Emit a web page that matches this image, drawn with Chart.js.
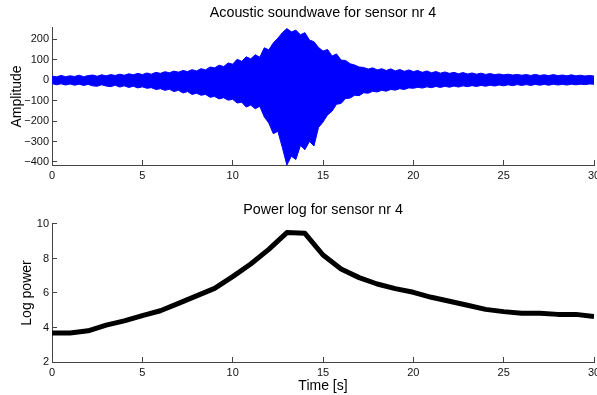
<!DOCTYPE html>
<html>
<head>
<meta charset="utf-8">
<script src="https://cdn.jsdelivr.net/npm/chart.js@4"></script>
<style>
  body { margin: 0; background: #fff; }
  canvas { position: absolute; left: 0; }
  #waveChart { top: 0; }
  #powerChart { top: 190px; }
</style>
</head>
<body>
<canvas id="waveChart" width="597" height="190"></canvas>
<canvas id="powerChart" width="597" height="205"></canvas>
<script>
const ampTime = [
  0, 0.25, 0.5, 0.75, 1, 1.25, 1.5, 1.75, 2, 2.25, 2.5, 2.75, 3, 3.25, 3.5, 3.75, 4, 4.25, 4.5, 4.75,
  5, 5.25, 5.5, 5.75, 6, 6.25, 6.5, 6.75, 7, 7.25, 7.5, 7.75, 8, 8.25, 8.5, 8.75, 9, 9.25, 9.5, 9.75,
  10, 10.25, 10.5, 10.75, 11, 11.25, 11.5, 11.75, 12, 12.25, 12.5, 12.75, 13, 13.25, 13.5, 13.75, 14, 14.25, 14.5, 14.75,
  15, 15.25, 15.5, 15.75, 16, 16.25, 16.5, 16.75, 17, 17.25, 17.5, 17.75, 18, 18.25, 18.5, 18.75, 19, 19.25, 19.5, 19.75,
  20, 20.25, 20.5, 20.75, 21, 21.25, 21.5, 21.75, 22, 22.25, 22.5, 22.75, 23, 23.25, 23.5, 23.75, 24, 24.25, 24.5, 24.75,
  25, 25.25, 25.5, 25.75, 26, 26.25, 26.5, 26.75, 27, 27.25, 27.5, 27.75, 28, 28.25, 28.5, 28.75, 29, 29.25, 29.5, 29.75,
  30
];
const ampMax = [
  20, 16, 23, 17, 21, 18, 24, 17, 22, 25, 19, 26, 21, 27, 23, 29, 24, 31, 26, 33,
  27, 35, 29, 38, 33, 41, 36, 44, 39, 47, 42, 51, 45, 56, 50, 64, 60, 73, 66, 84,
  78, 102, 92, 114, 104, 124, 112, 158, 148, 182, 205, 232, 252, 236, 244, 222, 232, 196, 188, 160,
  142, 150, 118, 128, 98, 96, 80, 74, 64, 62, 54, 60, 50, 56, 47, 55, 45, 52, 43, 50,
  42, 47, 38, 45, 36, 42, 34, 40, 33, 38, 31, 37, 30, 35, 29, 34, 28, 32, 27, 30,
  26, 29, 25, 28, 24, 27, 23, 28, 23, 26, 22, 27, 22, 25, 21, 26, 21, 24, 20, 23,
  20
];
const ampMin = [
  -17, -23, -18, -24, -19, -25, -20, -26, -21, -28, -30, -23, -29, -32, -25, -34, -28, -36, -30, -38,
  -33, -40, -37, -46, -42, -50, -45, -56, -50, -63, -56, -70, -64, -74, -70, -84, -80, -92, -86, -98,
  -94, -112, -108, -132, -122, -140, -128, -180, -210, -262, -250, -330, -415, -372, -388, -320, -340, -300, -322, -232,
  -205, -170, -152, -118, -114, -90, -88, -74, -76, -62, -64, -55, -58, -50, -54, -46, -49, -42, -46, -38,
  -40, -35, -39, -33, -37, -31, -36, -30, -35, -29, -34, -28, -32, -27, -31, -26, -30, -25, -29, -24,
  -28, -23, -27, -22, -26, -22, -26, -21, -25, -21, -25, -20, -24, -21, -24, -20, -23, -20, -22, -19,
  -20
];

// log power, one value per second
const powerTime = [0, 1, 2, 3, 4, 5, 6, 7, 8, 9, 10, 11, 12, 13, 14, 15, 16, 17, 18, 19, 20, 21, 22, 23, 24, 25, 26, 27, 28, 29, 30];
const logPower = [3.68, 3.68, 3.81, 4.14, 4.38, 4.69, 4.97, 5.40, 5.83, 6.27, 6.95, 7.68, 8.53, 9.50, 9.46, 8.20,
  7.39, 6.89, 6.52, 6.25, 6.04, 5.75, 5.52, 5.29, 5.05, 4.92, 4.82, 4.82, 4.76, 4.76, 4.63];

const FONT = "'Liberation Sans', Arial, Helvetica, sans-serif";
const AXIS_COLOR = '#444';

function pts(xs, ys) {
  return xs.map((x, i) => ({ x: x, y: ys[i] }));
}

// minus sign like matlab
function tickText(v) {
  return String(v).replace('-', '\u2212');
}

// matlab-like axis: ticks inside, no grid
function axisX(height, withTitle) {
  return {
    type: 'linear', min: 0, max: 30,
    ticks: { stepSize: 5, includeBounds: false, padding: 9, color: '#111', maxRotation: 0,
      font: { family: FONT, size: 11 }, callback: tickText },
    grid: { drawOnChartArea: false, tickLength: -5, color: AXIS_COLOR },
    border: { color: AXIS_COLOR, width: 1 },
    title: withTitle ? { display: true, text: 'Time [s]', color: '#000',
      font: { family: FONT, size: 14 }, padding: { top: -3, bottom: 0 } } : { display: false },
    afterFit: s => { s.height = height; s.paddingLeft = 0; s.paddingRight = 0; }
  };
}

function axisY(min, max, step, label, labelPad) {
  return {
    min: min, max: max,
    ticks: { stepSize: step, includeBounds: false, padding: 8, color: '#111',
      font: { family: FONT, size: 11 }, callback: tickText },
    grid: { drawOnChartArea: false, tickLength: -5, color: AXIS_COLOR },
    border: { color: AXIS_COLOR, width: 1 },
    title: { display: true, text: label, color: '#000', font: { family: FONT, size: 14 },
      padding: { top: labelPad, bottom: 0 } },
    afterFit: s => { s.width = 52; s.paddingTop = 0; s.paddingBottom = 0; }
  };
}

function titleOpts(text, top, bottom) {
  return { display: true, text: text, color: '#000', fullSize: false,
    font: { family: FONT, size: 14.3, weight: 'normal' }, padding: { top: top, bottom: bottom } };
}

new Chart(document.getElementById('waveChart'), {
  type: 'line',
  data: {
    datasets: [
      { data: pts(ampTime, ampMax), borderColor: '#0000ff', backgroundColor: '#0000ff',
        borderWidth: 1, pointRadius: 0, fill: '+1', tension: 0 },
      { data: pts(ampTime, ampMin), borderColor: '#0000ff', backgroundColor: '#0000ff',
        borderWidth: 1, pointRadius: 0, fill: false, tension: 0 }
    ]
  },
  options: {
    responsive: false, animation: false,
    layout: { padding: { left: 0, right: 3, top: 0, bottom: 0 } },
    plugins: { legend: { display: false }, tooltip: { enabled: false },
      title: titleOpts('Acoustic soundwave for sensor nr 4', 4, 6.8) },
    scales: { x: axisX(25, false), y: axisY(-415, 255, 100, 'Amplitude', 8.5) }
  }
});

new Chart(document.getElementById('powerChart'), {
  type: 'line',
  data: {
    datasets: [
      { data: pts(powerTime, logPower), borderColor: '#000', borderWidth: 5,
        pointRadius: 0, fill: false, tension: 0, borderJoinStyle: 'round' }
    ]
  },
  options: {
    responsive: false, animation: false,
    layout: { padding: { left: 0, right: 3, top: 0, bottom: 0 } },
    plugins: { legend: { display: false }, tooltip: { enabled: false },
      title: titleOpts('Power log for sensor nr 4', 11, 5.8) },
    scales: { x: axisX(33, true), y: axisY(2, 10, 2, 'Log power', 18.5) }
  }
});
</script>
</body>
</html>
